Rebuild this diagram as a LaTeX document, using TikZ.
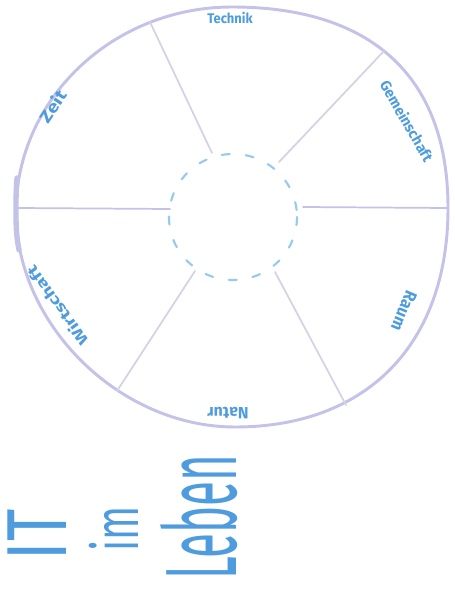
\documentclass[tikz,border=0pt]{standalone}
\usepackage{fontspec}
\setmainfont{Fira Sans}
\definecolor{ringc}{RGB}{196,194,232}
\definecolor{spokec}{RGB}{212,210,228}
\definecolor{inkc}{RGB}{78,156,222}
\definecolor{dashc}{RGB}{150,202,240}
\tikzset{
  ring/.style={draw=ringc, line width=2.2pt},
  spoke/.style={draw=spokec, line width=1.3pt, line cap=round},
  hub/.style={draw=dashc, line width=1.6pt, dash pattern=on 6pt off 12pt, line cap=round},
  lbl/.style={inner sep=0pt, text=inkc, font=\bfseries},
  big/.style={inner sep=0pt, text=inkc, rotate=90}
}
\begin{document}
\begin{tikzpicture}[x=0.75pt, y=-0.75pt]
\useasboundingbox (0,0) rectangle (454,591);
\fill[white] (0,0) rectangle (454,591);
% outer ring (hand drawn)
\draw[ring] (232,7) .. controls (372,7) and (448,77) .. (448,208)
  .. controls (448,344) and (367,427) .. (235,427)
  .. controls (120,427) and (16,325) .. (16,212)
  .. controls (16,99) and (113,7) .. (232,7) -- cycle;
\draw[draw=ringc, line width=4pt, line cap=round] (19,250) .. controls (16,235) and (16,222) .. (16,212) .. controls (16,200) and (16,190) .. (17,178);
% inner dashed ring
\draw[hub] (233,217) ellipse [x radius=64, y radius=63];
% spoke coordinates
\coordinate (a1) at (150,22); \coordinate (a2) at (212,153);
\coordinate (b1) at (384,51); \coordinate (b2) at (279,162);
\coordinate (c1) at (17,208); \coordinate (c2) at (170,209);
\coordinate (d1) at (303,207); \coordinate (d2) at (447,208);
\coordinate (e1) at (117,391); \coordinate (e2) at (195,271);
\coordinate (f1) at (346,405); \coordinate (f2) at (275,272);
\draw[spoke] (a1) -- (a2);
\draw[spoke] (b1) -- (b2);
\draw[spoke, draw=ringc] (c1) -- (c2);
\draw[spoke, draw=ringc] (d1) -- (d2);
\draw[spoke] (e1) -- (e2);
\draw[spoke] (f1) -- (f2);
% labels
\node[lbl] (technik) at (230,18) {\resizebox{34pt}{8.5pt}{Technik}};
\node[lbl, rotate=-60] (gem) at (407,121) {\resizebox{68pt}{9pt}{Gemeinschaft}};
\node[lbl, rotate=-113] (raum) at (404,311) {\resizebox{31pt}{9pt}{Raum}};
\node[lbl, rotate=180] (natur) at (228,413) {\resizebox{31pt}{8.5pt}{Natur}};
\node[lbl, rotate=126] (wirt) at (57,306) {\resizebox{70pt}{9pt}{Wirtschaft}};
\node[lbl, rotate=56] (zeit) at (53,106) {\resizebox{26pt}{10pt}{Zeit}};
% title
\node[big] (it) at (37,535) {\resizebox{38pt}{44pt}{IT}};
\node[big] (im) at (114,529) {\resizebox{34pt}{37pt}{im}};
\node[big] (leben) at (199,517) {\resizebox{94pt}{57pt}{Leben}};
\end{tikzpicture}
\end{document}
